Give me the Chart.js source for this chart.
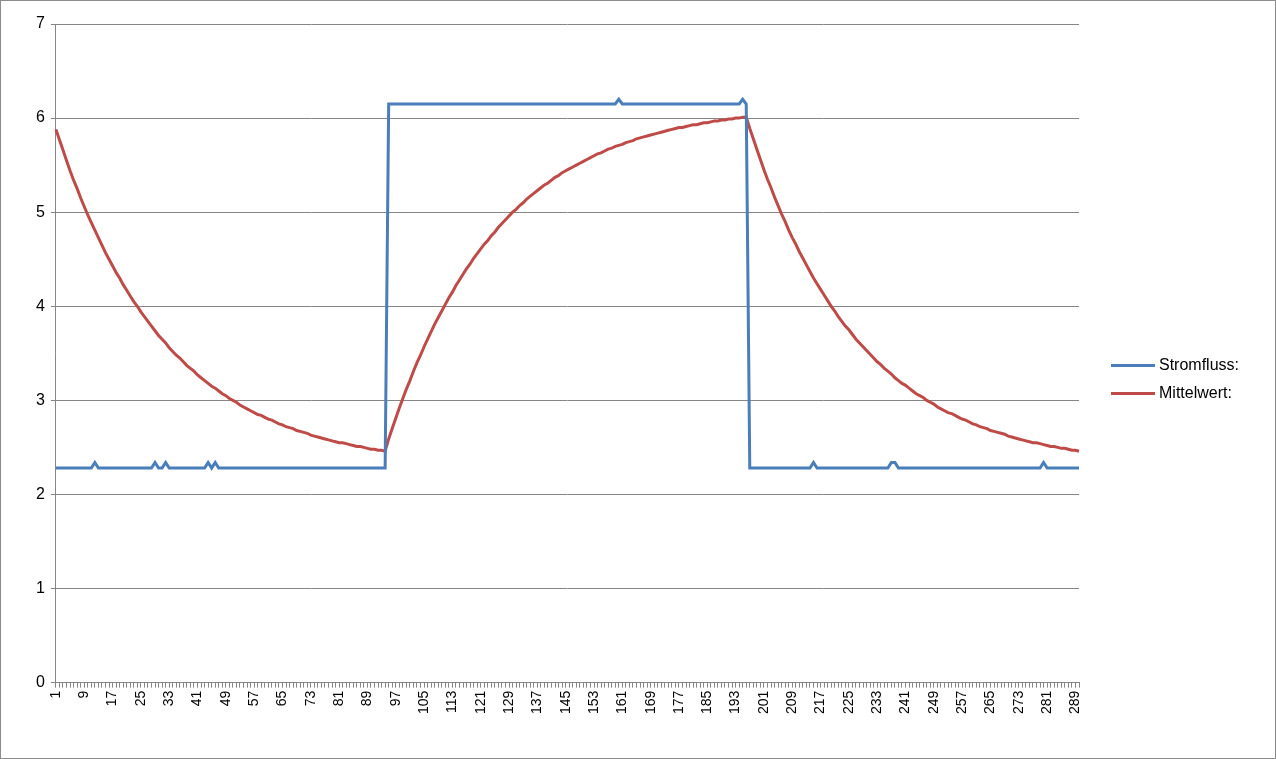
<!DOCTYPE html>
<html>
<head>
<meta charset="utf-8">
<script src="https://cdn.jsdelivr.net/npm/chart.js@4"></script>
<style>
  body { margin: 0; background: #fff; }
  #wrap { position: relative; width: 1274px; height: 757px; border: 1px solid #8c8c8c; }
  #legend { position: absolute; left: 1110px; top: 350px; font: 16px "Liberation Sans", Arial, sans-serif; color: #000; }
  #legend div { display: flex; align-items: center; height: 28px; }
  #legend span.sw { display: inline-block; width: 44px; height: 3px; margin-right: 4px; }
</style>
</head>
<body>
<div id="wrap">
  <canvas id="lineChart" width="1274" height="757"></canvas>
  <div id="legend">
    <div><span class="sw" style="background:#4A7EBB"></span>Stromfluss:</div>
    <div><span class="sw" style="background:#BE4B48"></span>Mittelwert:</div>
  </div>
</div>
<script>
const seriesNames = ["Stromfluss:", "Mittelwert:"];
const yTicks = [0, 1, 2, 3, 4, 5, 6, 7];

const stromfluss = [
  2.28, 2.28, 2.28, 2.28, 2.28, 2.28, 2.28, 2.28, 2.28, 2.28, 2.28, 2.34, 2.28, 2.28, 2.28, 2.28, 2.28, 2.28, 2.28, 2.28,
  2.28, 2.28, 2.28, 2.28, 2.28, 2.28, 2.28, 2.28, 2.34, 2.28, 2.28, 2.34, 2.28, 2.28, 2.28, 2.28, 2.28, 2.28, 2.28, 2.28,
  2.28, 2.28, 2.28, 2.34, 2.28, 2.34, 2.28, 2.28, 2.28, 2.28, 2.28, 2.28, 2.28, 2.28, 2.28, 2.28, 2.28, 2.28, 2.28, 2.28,
  2.28, 2.28, 2.28, 2.28, 2.28, 2.28, 2.28, 2.28, 2.28, 2.28, 2.28, 2.28, 2.28, 2.28, 2.28, 2.28, 2.28, 2.28, 2.28, 2.28,
  2.28, 2.28, 2.28, 2.28, 2.28, 2.28, 2.28, 2.28, 2.28, 2.28, 2.28, 2.28, 2.28, 2.28,
  6.15, 6.15, 6.15, 6.15, 6.15, 6.15, 6.15, 6.15, 6.15, 6.15, 6.15, 6.15, 6.15, 6.15, 6.15, 6.15, 6.15, 6.15, 6.15, 6.15,
  6.15, 6.15, 6.15, 6.15, 6.15, 6.15, 6.15, 6.15, 6.15, 6.15, 6.15, 6.15, 6.15, 6.15, 6.15, 6.15, 6.15, 6.15, 6.15, 6.15,
  6.15, 6.15, 6.15, 6.15, 6.15, 6.15, 6.15, 6.15, 6.15, 6.15, 6.15, 6.15, 6.15, 6.15, 6.15, 6.15, 6.15, 6.15, 6.15, 6.15,
  6.15, 6.15, 6.15, 6.15, 6.15, 6.20, 6.15, 6.15, 6.15, 6.15, 6.15, 6.15, 6.15, 6.15, 6.15, 6.15, 6.15, 6.15, 6.15, 6.15,
  6.15, 6.15, 6.15, 6.15, 6.15, 6.15, 6.15, 6.15, 6.15, 6.15, 6.15, 6.15, 6.15, 6.15, 6.15, 6.15, 6.15, 6.15, 6.15, 6.15,
  6.20, 6.15,
  2.28, 2.28, 2.28, 2.28, 2.28, 2.28, 2.28, 2.28, 2.28, 2.28, 2.28, 2.28, 2.28, 2.28, 2.28, 2.28, 2.28, 2.28, 2.34, 2.28,
  2.28, 2.28, 2.28, 2.28, 2.28, 2.28, 2.28, 2.28, 2.28, 2.28, 2.28, 2.28, 2.28, 2.28, 2.28, 2.28, 2.28, 2.28, 2.28, 2.28,
  2.34, 2.34, 2.28, 2.28, 2.28, 2.28, 2.28, 2.28, 2.28, 2.28, 2.28, 2.28, 2.28, 2.28, 2.28, 2.28, 2.28, 2.28, 2.28, 2.28,
  2.28, 2.28, 2.28, 2.28, 2.28, 2.28, 2.28, 2.28, 2.28, 2.28, 2.28, 2.28, 2.28, 2.28, 2.28, 2.28, 2.28, 2.28, 2.28, 2.28,
  2.28, 2.28, 2.28, 2.34, 2.28, 2.28, 2.28, 2.28, 2.28, 2.28, 2.28, 2.28, 2.28, 2.28
];

const mittelwert = [
  5.88, 5.77, 5.66, 5.55, 5.44, 5.34, 5.25, 5.15, 5.06, 4.97, 4.89, 4.81, 4.73, 4.65, 4.57, 4.50, 4.43, 4.36, 4.30, 4.23,
  4.17, 4.11, 4.05, 4.00, 3.94, 3.89, 3.84, 3.79, 3.74, 3.69, 3.65, 3.61, 3.56, 3.52, 3.48, 3.45, 3.41, 3.37, 3.34, 3.31,
  3.27, 3.24, 3.21, 3.18, 3.15, 3.13, 3.10, 3.07, 3.05, 3.02, 3.00, 2.98, 2.95, 2.93, 2.91, 2.89, 2.87, 2.85, 2.84, 2.82,
  2.80, 2.79, 2.77, 2.75, 2.74, 2.72, 2.71, 2.70, 2.68, 2.67, 2.66, 2.65, 2.63, 2.62, 2.61, 2.60, 2.59, 2.58, 2.57, 2.56,
  2.55, 2.55, 2.54, 2.53, 2.52, 2.51, 2.51, 2.50, 2.49, 2.48, 2.48, 2.47, 2.47, 2.46,
  2.59, 2.70, 2.81, 2.92, 3.02, 3.12, 3.21, 3.31, 3.40, 3.48, 3.57, 3.65, 3.73, 3.81, 3.88, 3.95, 4.02, 4.09, 4.15, 4.22,
  4.28, 4.34, 4.40, 4.45, 4.51, 4.56, 4.61, 4.66, 4.70, 4.75, 4.79, 4.84, 4.88, 4.92, 4.96, 5.00, 5.03, 5.07, 5.10, 5.14,
  5.17, 5.20, 5.23, 5.26, 5.29, 5.31, 5.34, 5.37, 5.39, 5.42, 5.44, 5.46, 5.48, 5.50, 5.52, 5.54, 5.56, 5.58, 5.60, 5.62,
  5.63, 5.65, 5.67, 5.68, 5.70, 5.71, 5.72, 5.74, 5.75, 5.76, 5.78, 5.79, 5.80, 5.81, 5.82, 5.83, 5.84, 5.85, 5.86, 5.87,
  5.88, 5.89, 5.90, 5.90, 5.91, 5.92, 5.93, 5.93, 5.94, 5.95, 5.95, 5.96, 5.97, 5.97, 5.98, 5.98, 5.99, 5.99, 6.00, 6.00,
  6.01, 6.01,
  5.89, 5.78, 5.67, 5.56, 5.45, 5.35, 5.26, 5.16, 5.07, 4.98, 4.90, 4.81, 4.73, 4.66, 4.58, 4.51, 4.44, 4.37, 4.30, 4.24,
  4.18, 4.12, 4.06, 4.00, 3.95, 3.89, 3.84, 3.79, 3.75, 3.70, 3.65, 3.61, 3.57, 3.53, 3.49, 3.45, 3.41, 3.38, 3.34, 3.31,
  3.28, 3.24, 3.21, 3.18, 3.16, 3.13, 3.10, 3.07, 3.05, 3.03, 3.00, 2.98, 2.96, 2.93, 2.91, 2.89, 2.87, 2.86, 2.84, 2.82,
  2.80, 2.79, 2.77, 2.75, 2.74, 2.72, 2.71, 2.70, 2.68, 2.67, 2.66, 2.65, 2.64, 2.62, 2.61, 2.60, 2.59, 2.58, 2.57, 2.56,
  2.55, 2.55, 2.54, 2.53, 2.52, 2.51, 2.51, 2.50, 2.49, 2.49, 2.48, 2.47, 2.47, 2.46
];

const labels = stromfluss.map((v, i) => String(i + 1));

const lineConfig = {
  type: "line",
  data: {
    labels: labels,
    datasets: [
      { label: seriesNames[0], data: stromfluss, borderColor: "#4A7EBB", borderWidth: 3, pointRadius: 0, tension: 0 },
      { label: seriesNames[1], data: mittelwert, borderColor: "#BE4B48", borderWidth: 3, pointRadius: 0, tension: 0 },
    ],
  },
  options: {
    responsive: false,
    animation: false,
    layout: { padding: { left: 29, right: 196, top: 23, bottom: 41 } },
    plugins: { legend: { display: false }, tooltip: { enabled: false } },
    scales: {
      x: {
        grid: { drawOnChartArea: false, tickLength: 5, color: "#868686" },
        border: { color: "#868686" },
        ticks: {
          autoSkip: false,
          maxRotation: 90,
          minRotation: 90,
          color: "#000",
          font: { family: "Liberation Sans", size: 14 },
          callback: function (v, i) { return i % 8 === 0 ? labels[i] : ""; },
        },
      },
      y: {
        min: 0,
        max: 7,
        grid: { color: "#868686", tickLength: 5 },
        border: { color: "#868686" },
        afterBuildTicks: (axis) => { axis.ticks = yTicks.map((v) => ({ value: v })); },
        ticks: { color: "#000", font: { family: "Liberation Sans", size: 16 }, padding: 6 },
      },
    },
  },
};

new Chart(document.getElementById("lineChart"), lineConfig);
</script>
</body>
</html>
